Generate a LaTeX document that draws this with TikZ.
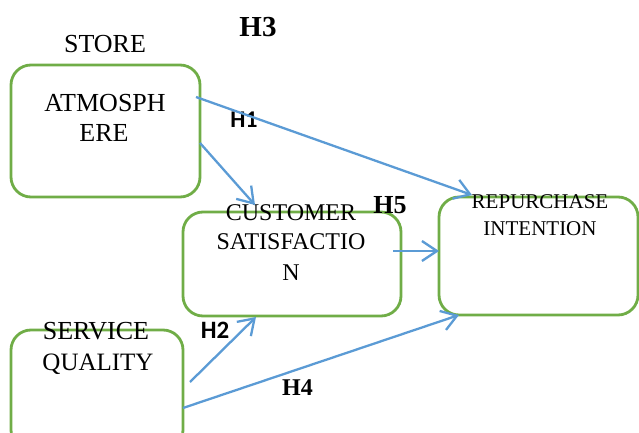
\documentclass[tikz,border=0pt]{standalone}
\usepackage{fontspec}
\setmainfont{Liberation Serif}
\newfontfamily\calib{Carlito}
\usetikzlibrary{arrows.meta}
\definecolor{boxgreen}{HTML}{70AD47}
\definecolor{linkblue}{HTML}{5B9BD5}
\tikzset{
  box/.style={draw=boxgreen,line width=2.8pt,rounded corners=20pt,inner sep=0pt,outer sep=0pt},
  link/.style={draw=linkblue,line width=2.3pt,-{Straight Barb[length=15pt,width=20pt]}},
  txt/.style={inner sep=0pt,text depth=0pt,font=\fontsize{26}{30}\selectfont},
  hyp/.style={inner sep=0pt,text depth=0pt,font=\fontsize{26}{30}\selectfont\bfseries}
}

\begin{document}
\begin{tikzpicture}[x=1pt,y=-1pt]
\useasboundingbox (0,0) rectangle (639,433);
\clip (0,0) rectangle (639,433);

%boxes
\node[box,minimum width=189pt,minimum height=132pt] (atm) at (105.5,131) {};
\node[box,minimum width=218pt,minimum height=104pt] (sat) at (292,264) {};
\node[box,minimum width=199pt,minimum height=118pt] (rep) at (538.5,256) {};
\node[box,minimum width=172pt,minimum height=120pt] (serv) at (97,390) {};

%store atmosphere
\node[txt] (atmA) at (105,44) {STORE};
\node[txt] (atmB) at (105,103) {ATMOSPH};
\node[txt] (atmC) at (104,133) {ERE};
%customer satisfaction
\node[txt,font=\fontsize{24}{28}\selectfont] (satA) at (291,212.5) {CUSTOMER};
\node[txt,font=\fontsize{24}{28}\selectfont] (satB) at (291,241.5) {SATISFACTIO};
\node[txt,font=\fontsize{24}{28}\selectfont] (satC) at (291,272.5) {N};
%repurchase intention
\node[txt,font=\fontsize{21}{26}\selectfont] (repA) at (540,202) {REPURCHASE};
\node[txt,font=\fontsize{21}{26}\selectfont] (repB) at (540,229) {INTENTION};
%service quality
\node[txt] (servA) at (96,331) {SERVICE};
\node[txt,font=\fontsize{25}{30}\selectfont] (servB) at (98,362) {QUALITY};

%hypotheses
\node[hyp,font=\fontsize{29}{32}\selectfont\bfseries] (h3) at (258,27) {H3};
\node[hyp,font=\fontsize{24}{28}\selectfont\calib\bfseries] (h1) at (244,119.5) {H1};
\node[hyp] (h5) at (390,205) {H5};
\node[hyp,font=\fontsize{25}{28}\selectfont\calib\bfseries] (h2) at (215,330) {H2};
\node[hyp,font=\fontsize{24}{28}\selectfont\bfseries] (h4) at (297.5,387.5) {H4};

%arrows
\draw[link] ([xshift=-4pt,yshift=34pt]atm.east) -- ([xshift=-66.5pt,yshift=2pt]rep.north);
\draw[link] ([yshift=-12pt]atm.east) -- ([xshift=-37pt,yshift=7pt]sat.north);
\draw[link] ([xshift=-8pt,yshift=13pt]sat.east) -- ([yshift=5pt]rep.west);
\draw[link] ([xshift=7pt,yshift=8pt]serv.east) -- ([xshift=-36pt,yshift=-1pt]sat.south);
\draw[link] ([yshift=-18pt]serv.east) -- ([xshift=-79.5pt]rep.south);
\end{tikzpicture}
\end{document}
